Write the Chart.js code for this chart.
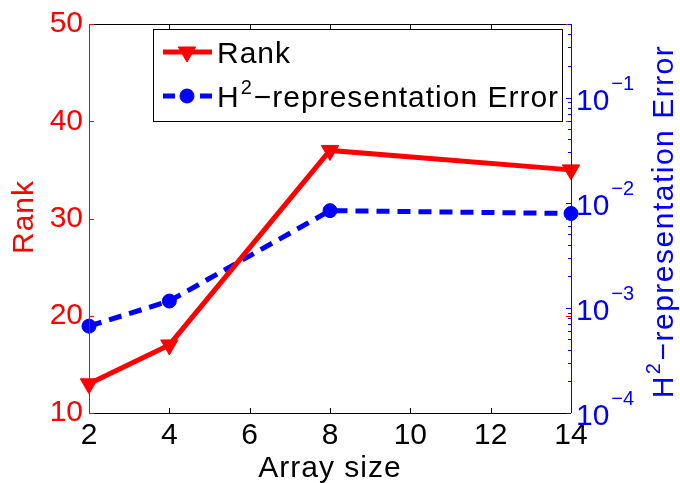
<!DOCTYPE html>
<html>
<head>
<meta charset="utf-8">
<script src="https://cdn.jsdelivr.net/npm/chart.js@4/dist/chart.umd.min.js"></script>
<style>
  html, body { margin: 0; padding: 0; background: #fff; }
  #wrap { width: 680px; height: 483px; }
</style>
</head>
<body>
<div id="wrap"><canvas id="chart" width="680" height="483"></canvas></div>
<script>
// values
const arraySizes = [2, 4, 8, 14];
const rankValues = [13, 17, 37, 35];
const errorValues = [6.7e-4, 1.16e-3, 8.4e-3, 7.9e-3];
const xTicks = [2, 4, 6, 8, 10, 12, 14];
const rankTicks = [10, 20, 30, 40, 50];
const errorExponents = [-4, -3, -2, -1];

const RED = '#ff0000';
const BLUE = '#0000ff';
const FONT = '"Liberation Sans", Arial, Helvetica, sans-serif';

function line(ctx, x1, y1, x2, y2, color) {
  ctx.strokeStyle = color;
  ctx.beginPath();
  ctx.moveTo(x1, y1);
  ctx.lineTo(x2, y2);
  ctx.stroke();
}

// draws "H^2-representation Error" starting at x (baseline y)
function drawH2Label(ctx, x, y, size) {
  ctx.font = size + 'px ' + FONT;
  ctx.fillText('H', x, y);
  const w1 = ctx.measureText('H').width;
  ctx.font = Math.round(size * 0.68) + 'px ' + FONT;
  ctx.fillText('2', x + w1 + 1, y - size * 0.42);
  const w2 = ctx.measureText('2').width;
  ctx.font = size + 'px ' + FONT;
  ctx.fillText('\u2212representation Error', x + w1 + w2 + 2, y);
}

function h2LabelWidth(ctx, size) {
  ctx.font = size + 'px ' + FONT;
  let w = ctx.measureText('H').width + ctx.measureText('\u2212representation Error').width + 3;
  ctx.font = Math.round(size * 0.68) + 'px ' + FONT;
  return w + ctx.measureText('2').width;
}

const decor = {
  id: 'decor',
  afterDraw(chart) {
    const { ctx, chartArea: a, scales } = chart;
    const sx = scales.x, sy = scales.y, sy2 = scales.y2;
    ctx.save();
    ctx.lineWidth = 1;

    // frame
    line(ctx, a.left, a.top + 0.5, a.right, a.top + 0.5, '#000');
    line(ctx, a.left, a.bottom + 0.5, a.right, a.bottom + 0.5, '#000');
    xTicks.forEach(v => {
      const px = Math.round(sx.getPixelForValue(v)) + 0.5;
      line(ctx, px, a.bottom, px, a.bottom - 5, '#000');
      line(ctx, px, a.top, px, a.top + 5, '#000');
    });
    rankTicks.forEach(v => {
      const py = Math.round(sy.getPixelForValue(v)) + 0.5;
      line(ctx, a.left, py, a.left + 5, py, RED);
      line(ctx, a.right, py, a.right - 5, py, RED);
    });
    errorExponents.forEach(e => {
      for (let m = 1; m <= 9; m++) {
        const v = m * Math.pow(10, e);
        if (v > sy2.max) break;
        const py = Math.round(sy2.getPixelForValue(v)) + 0.5;
        line(ctx, a.right, py, a.right - (m === 1 ? 5 : 3), py, BLUE);
      }
    });
    line(ctx, Math.round(a.left) + 0.5, a.top, Math.round(a.left) + 0.5, a.bottom, RED);
    line(ctx, Math.round(a.right) + 0.5, a.top, Math.round(a.right) + 0.5, a.bottom, BLUE);

    // right axis labels 10^e
    ctx.fillStyle = BLUE;
    ctx.textAlign = 'left';
    ctx.textBaseline = 'alphabetic';
    errorExponents.forEach(e => {
      const py = sy2.getPixelForValue(Math.pow(10, e));
      ctx.font = '30px ' + FONT;
      ctx.fillText('10', a.right + 5, py + 12);
      const w = ctx.measureText('10').width;
      ctx.font = '20px ' + FONT;
      ctx.fillText('\u2212' + Math.abs(e), a.right + 7 + w, py - 8);
    });

    // axis titles
    ctx.letterSpacing = '1px';
    ctx.fillStyle = '#000';
    ctx.font = '30px ' + FONT;
    ctx.textAlign = 'center';
    ctx.fillText('Array size', (a.left + a.right) / 2, 477);

    ctx.save();
    ctx.translate(33, 217);
    ctx.rotate(-Math.PI / 2);
    ctx.fillStyle = RED;
    ctx.fillText('Rank', 0, 0);
    ctx.restore();

    ctx.save();
    ctx.translate(673, 221);
    ctx.rotate(-Math.PI / 2);
    ctx.letterSpacing = '1.5px';
    ctx.fillStyle = BLUE;
    ctx.textAlign = 'left';
    drawH2Label(ctx, -h2LabelWidth(ctx, 30) / 2, 0, 30);
    ctx.restore();

    // legend
    ctx.fillStyle = '#fff';
    ctx.fillRect(153.5, 29.5, 409, 92);
    ctx.strokeStyle = '#000';
    ctx.lineWidth = 1;
    ctx.strokeRect(153.5, 29.5, 409, 92);

    const rankSet = chart.data.datasets[0];
    const errSet = chart.data.datasets[1];

    ctx.lineWidth = rankSet.borderWidth;
    line(ctx, 163, 52, 212, 52, rankSet.borderColor);
    ctx.fillStyle = rankSet.pointBackgroundColor;
    ctx.strokeStyle = rankSet.pointBorderColor;
    ctx.lineWidth = 1;
    Chart.helpers.drawPoint(ctx, { pointStyle: 'triangle', radius: rankSet.pointRadius, rotation: 180, borderWidth: 1 }, 187, 52);

    ctx.lineWidth = errSet.borderWidth;
    line(ctx, 163, 96, 175, 96, errSet.borderColor);
    line(ctx, 200, 96, 212, 96, errSet.borderColor);
    ctx.fillStyle = errSet.pointBackgroundColor;
    ctx.strokeStyle = errSet.pointBorderColor;
    ctx.lineWidth = 1;
    Chart.helpers.drawPoint(ctx, { pointStyle: 'circle', radius: errSet.pointRadius, borderWidth: 1 }, 187, 96);

    ctx.fillStyle = '#000';
    ctx.textAlign = 'left';
    ctx.font = '30px ' + FONT;
    ctx.fillText('Rank', 217, 63);
    drawH2Label(ctx, 217, 107, 30);

    ctx.restore();
  }
};

new Chart(document.getElementById('chart'), {
  type: 'line',
  data: {
    datasets: [{
      label: 'Rank',
      data: arraySizes.map((x, i) => ({ x, y: rankValues[i] })),
      yAxisID: 'y',
      borderColor: RED,
      borderWidth: 5,
      pointStyle: 'triangle',
      pointRotation: 180,
      pointRadius: 10,
      pointBackgroundColor: RED,
      pointBorderColor: RED,
      pointBorderWidth: 1,
      tension: 0,
      clip: false
    }, {
      label: 'H2-representation Error',
      data: arraySizes.map((x, i) => ({ x, y: errorValues[i] })),
      yAxisID: 'y2',
      borderColor: BLUE,
      borderWidth: 5,
      borderDash: [13, 8],
      pointStyle: 'circle',
      pointRadius: 7,
      pointBackgroundColor: BLUE,
      pointBorderColor: BLUE,
      pointBorderWidth: 1,
      tension: 0,
      clip: false
    }]
  },
  options: {
    responsive: false,
    animation: false,
    devicePixelRatio: 1,
    layout: { padding: { top: 21, left: 0, right: 0, bottom: 0 } },
    plugins: { legend: { display: false }, tooltip: { enabled: false } },
    scales: {
      x: {
        type: 'linear',
        min: 2,
        max: 14,
        afterBuildTicks: s => { s.ticks = xTicks.map(v => ({ value: v })); },
        ticks: { color: '#000', font: { size: 30, family: FONT }, padding: 5, maxRotation: 0, autoSkip: false },
        grid: { display: false, drawTicks: false },
        border: { display: false },
        afterFit: s => { s.height = 70; }
      },
      y: {
        position: 'left',
        min: 10,
        max: 50,
        afterBuildTicks: s => { s.ticks = rankTicks.map(v => ({ value: v })); },
        ticks: { color: RED, font: { size: 30, family: FONT }, padding: 6 },
        grid: { display: false, drawTicks: false },
        border: { display: false },
        afterFit: s => { s.width = 89; }
      },
      y2: {
        type: 'logarithmic',
        position: 'right',
        min: 1e-4,
        max: 0.5,
        ticks: { display: false },
        grid: { display: false, drawTicks: false },
        border: { display: false },
        afterFit: s => { s.width = 109; }
      }
    }
  },
  plugins: [decor]
});
</script>
</body>
</html>
